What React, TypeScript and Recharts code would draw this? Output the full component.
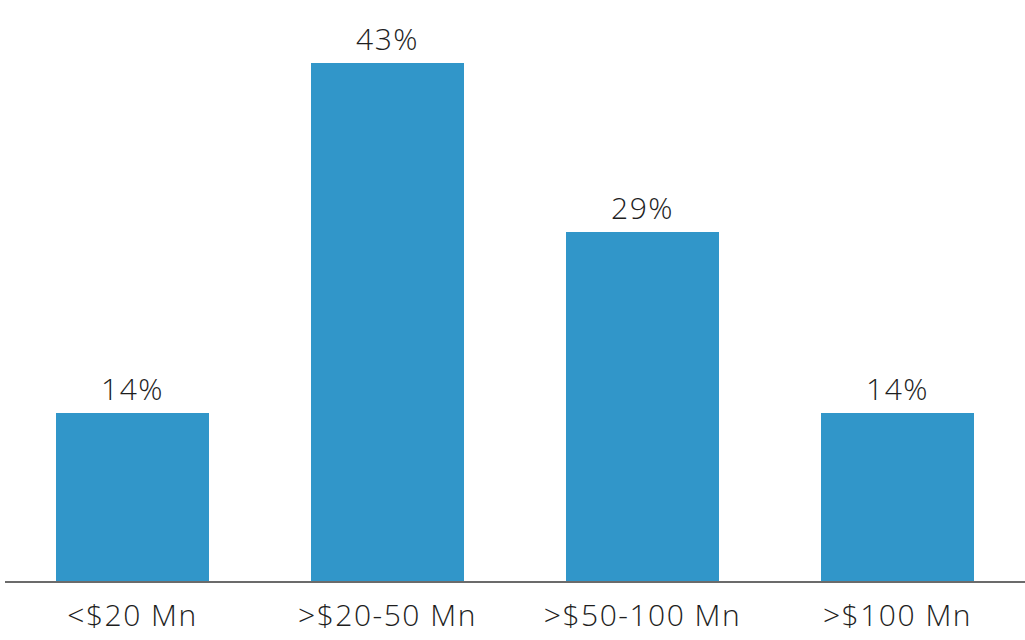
import React from "react";
import { BarChart, Bar, XAxis, YAxis, LabelList } from "recharts";

const categories = ["<$20 Mn", ">$20-50 Mn", ">$50-100 Mn", ">$100 Mn"];
const shares = [14, 43, 29, 14];

const data = categories.map((c, i) => ({ name: c, value: shares[i] }));

const FONT = "'Open Sans', sans-serif";

export default function App() {
  return (
    <div style={{ position: "absolute", left: 0, top: 0, background: "#fff" }}>
      <BarChart
        width={1025}
        height={640}
        data={data}
        margin={{ top: 63, right: 0, left: 5, bottom: 0 }}
        barCategoryGap={0}
      >
        <XAxis
          dataKey="name"
          height={58}
          tickLine={false}
          axisLine={{ stroke: "#6b6b6b", strokeWidth: 2 }}
          tickMargin={17}
          tick={{ fill: "#1e1e1e", fontSize: 30, fontFamily: FONT, fontWeight: 300, letterSpacing: 1.5 }}
          interval={0}
        />
        <YAxis hide domain={[0, 43]} />
        <Bar dataKey="value" fill="#3196C9" barSize={153} isAnimationActive={false}>
          <LabelList
            dataKey="value"
            position="top"
            offset={13}
            formatter={(v: number) => `${v}%`}
            style={{ fill: "#1e1e1e", fontSize: 30, fontFamily: FONT, fontWeight: 300, letterSpacing: 1.5 }}
          />
        </Bar>
      </BarChart>
    </div>
  );
}
